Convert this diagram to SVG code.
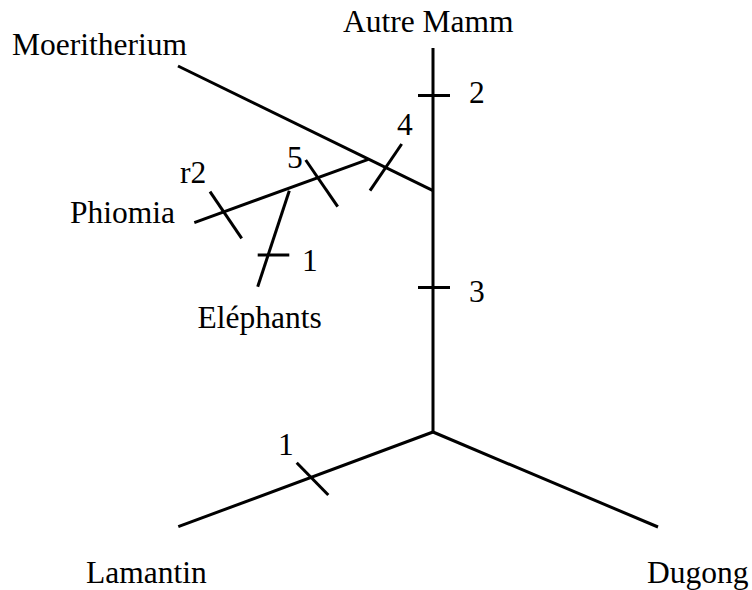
<svg xmlns="http://www.w3.org/2000/svg" width="752" height="590" viewBox="0 0 752 590">
<style>
.e{stroke:#000;stroke-width:3;fill:none;stroke-linecap:butt}
.t{font-family:'Liberation Serif',Tinos,'Times New Roman',Times,'DejaVu Serif',serif;font-size:31.5px;fill:#000}
</style>
<rect width="752" height="590" fill="#fff"/>
<g id="connectors">
<line class="e" x1="433" y1="48" x2="433" y2="432"/>
<line class="e" x1="178" y1="66" x2="433" y2="190.7"/>
<line class="e" x1="368.3" y1="159.3" x2="194.3" y2="222.7"/>
<line class="e" x1="289.3" y1="190.7" x2="257.7" y2="286.7"/>
<line class="e" x1="433" y1="432" x2="178.3" y2="526.7"/>
<line class="e" x1="433" y1="432" x2="658" y2="527"/>
<line class="e" x1="418" y1="95.5" x2="450" y2="95.5"/>
<line class="e" x1="418" y1="287.5" x2="450" y2="287.5"/>
<line class="e" x1="401.7" y1="144" x2="370" y2="190.7"/>
<line class="e" x1="305.7" y1="160" x2="337.7" y2="206.7"/>
<line class="e" x1="210" y1="191.7" x2="241.7" y2="238.3"/>
<line class="e" x1="257.7" y1="255" x2="289.3" y2="255"/>
<line class="e" x1="296.7" y1="462.7" x2="328.3" y2="495"/>
</g>
<g id="autre"><text class="t" x="343" y="32">Autre Mamm</text></g>
<g id="moeritherium"><text class="t" x="12" y="55">Moeritherium</text></g>
<g id="phiomia"><text class="t" x="70" y="223">Phiomia</text></g>
<g id="elephants"><text class="t" x="197.5" y="328">Eléphants</text></g>
<g id="lamantin"><text class="t" x="86" y="583">Lamantin</text></g>
<g id="dugong"><text class="t" x="647" y="583">Dugong</text></g>
<g id="labels">
<text class="t" x="469" y="103">2</text>
<text class="t" x="469" y="302">3</text>
<text class="t" x="397" y="135">4</text>
<text class="t" x="287" y="168">5</text>
<text class="t" x="180" y="183">r2</text>
<text class="t" x="302" y="271">1</text>
<text class="t" x="278" y="455">1</text>
</g>
</svg>
